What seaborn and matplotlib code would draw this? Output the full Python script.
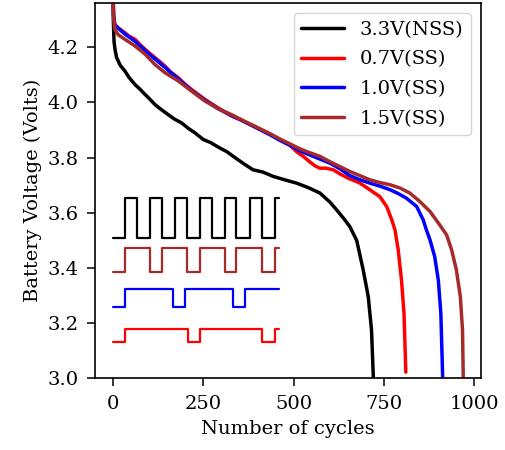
import numpy as np
import pandas as pd
import matplotlib
matplotlib.use("Agg")
import matplotlib.pyplot as plt
import seaborn as sns

# discharge curves (cycles, volts)
nss_x = [0, 1, 3, 6, 10, 20, 33, 45, 61, 75, 89, 100, 116, 130, 153, 170, 190, 210, 227,
         250, 270, 296, 315, 333, 360, 388, 415, 444, 475, 508, 540, 573, 600, 620, 640,
         656, 675, 693, 707, 716, 721]
nss_y = [4.40, 4.30, 4.22, 4.19, 4.163, 4.135, 4.114, 4.09, 4.065, 4.048, 4.029, 4.015,
         3.993, 3.978, 3.956, 3.94, 3.926, 3.905, 3.89, 3.866, 3.855, 3.835, 3.822, 3.805,
         3.78, 3.756, 3.748, 3.732, 3.72, 3.708, 3.692, 3.672, 3.64, 3.61, 3.578, 3.55,
         3.50, 3.393, 3.296, 3.175, 3.005]

ss07_x = [0, 2, 5, 15, 33, 45, 61, 75, 89, 100, 116, 130, 144, 160, 181, 200, 218, 235,
          255, 270, 292, 310, 330, 352, 380, 407, 435, 462, 490, 510, 527, 545, 560, 573,
          590, 610, 630, 651, 684, 711, 739, 758, 772, 781, 790, 799, 806, 811]
ss07_y = [4.40, 4.32, 4.284, 4.27, 4.253, 4.24, 4.229, 4.21, 4.193, 4.18, 4.163, 4.148,
          4.132, 4.11, 4.09, 4.066, 4.047, 4.03, 4.011, 3.998, 3.98, 3.965, 3.95, 3.938,
          3.92, 3.902, 3.885, 3.865, 3.845, 3.82, 3.805, 3.785, 3.77, 3.762, 3.762, 3.756,
          3.74, 3.726, 3.708, 3.684, 3.659, 3.623, 3.575, 3.538, 3.465, 3.356, 3.235, 3.023]

ss10_x = [0, 2, 5, 33, 61, 89, 116, 144, 181, 218, 255, 292, 330, 352, 380, 407, 435, 462,
          490, 518, 545, 573, 601, 628, 656, 684, 711, 739, 767, 790, 813, 841, 859, 868,
          878, 891, 901, 908, 913]
ss10_y = [4.40, 4.31, 4.28, 4.248, 4.222, 4.188, 4.158, 4.127, 4.085, 4.043, 4.008, 3.977,
          3.952, 3.938, 3.92, 3.902, 3.883, 3.863, 3.845, 3.825, 3.81, 3.795, 3.78, 3.76,
          3.735, 3.72, 3.708, 3.697, 3.684, 3.67, 3.653, 3.623, 3.575, 3.538, 3.502, 3.441,
          3.356, 3.235, 3.005]

ss15_x = [0, 1, 5, 15, 33, 61, 89, 116, 144, 181, 218, 255, 292, 330, 352, 380, 407, 435,
          462, 490, 518, 545, 573, 601, 628, 656, 684, 711, 739, 767, 795, 822, 850, 878,
          905, 924, 938, 951, 962, 968, 970]
ss15_y = [4.40, 4.32, 4.265, 4.245, 4.229, 4.205, 4.175, 4.138, 4.108, 4.078, 4.041, 4.005,
          3.977, 3.955, 3.94, 3.922, 3.905, 3.887, 3.868, 3.85, 3.832, 3.818, 3.805, 3.785,
          3.768, 3.75, 3.735, 3.72, 3.71, 3.702, 3.69, 3.672, 3.641, 3.605, 3.556, 3.52,
          3.465, 3.393, 3.296, 3.175, 3.005]

labels = ["3.3V(NSS)", "0.7V(SS)", "1.0V(SS)", "1.5V(SS)"]
colors = ["black", "red", "blue", "brown"]

# switching waveform glyphs (edge positions in cycles, low/high levels in volts)
wave_nss_x = [0, 33, 66, 102, 135, 172, 204, 241, 273, 310, 342, 379, 412, 448, 460]
wave_ss15_x = [0, 33, 102, 135, 204, 241, 310, 342, 412, 448, 460]
wave_ss10_x = [0, 33, 165, 199, 333, 365, 460]
wave_ss07_x = [0, 33, 209, 241, 414, 448, 460]
wave_levels = {"black": (3.508, 3.653), "brown": (3.387, 3.471),
               "blue": (3.26, 3.324), "red": (3.133, 3.181)}

sns.set_style("ticks")
plt.rcParams["font.family"] = ["DejaVu Serif"]
plt.rcParams["font.size"] = 14
plt.rcParams["axes.edgecolor"] = "black"
plt.rcParams["xtick.color"] = "black"
plt.rcParams["ytick.color"] = "black"
plt.rcParams["axes.labelcolor"] = "black"
plt.rcParams["text.color"] = "black"

fig = plt.figure(figsize=(5.05, 4.5), dpi=100)
ax = fig.add_axes([0.189, 0.159, 0.763, 0.834])

curves = [(nss_x, nss_y), (ss07_x, ss07_y), (ss10_x, ss10_y), (ss15_x, ss15_y)]
for (xs, ys), lab, col in zip(curves, labels, colors):
    sns.lineplot(x=xs, y=ys, color=col, lw=2.5, label=lab, ax=ax,
                 sort=False, estimator=None)


def wave(edges, color):
    lo, hi = wave_levels[color]
    lv = [lo if i % 2 == 0 else hi for i in range(len(edges) - 1)]
    lv.append(lv[-1])
    sns.lineplot(x=edges, y=lv, color=color, lw=1.6, drawstyle="steps-post",
                 ax=ax, sort=False, estimator=None)


wave(wave_nss_x, "black")
wave(wave_ss15_x, "brown")
wave(wave_ss10_x, "blue")
wave(wave_ss07_x, "red")

ax.set_xlim(-48.5, 1018.5)
ax.set_ylim(3.0, 4.36)
ax.set_xticks([0, 250, 500, 750, 1000])
ax.set_yticks([3.0, 3.2, 3.4, 3.6, 3.8, 4.0, 4.2])
ax.tick_params(length=5.5, width=1.1, labelsize=14, pad=6.5)
for s in ax.spines.values():
    s.set_linewidth(1.2)
ax.set_xlabel("Number of cycles", fontsize=14, labelpad=5)
ax.set_ylabel("Battery Voltage (Volts)", fontsize=14)

h, l = ax.get_legend_handles_labels()
ax.legend(h[:4], l[:4], loc="upper right", fontsize=14, handlelength=2.2,
          labelspacing=0.6, fancybox=True, framealpha=0.8, edgecolor="0.8")

fig.savefig("out.png", dpi=100)
